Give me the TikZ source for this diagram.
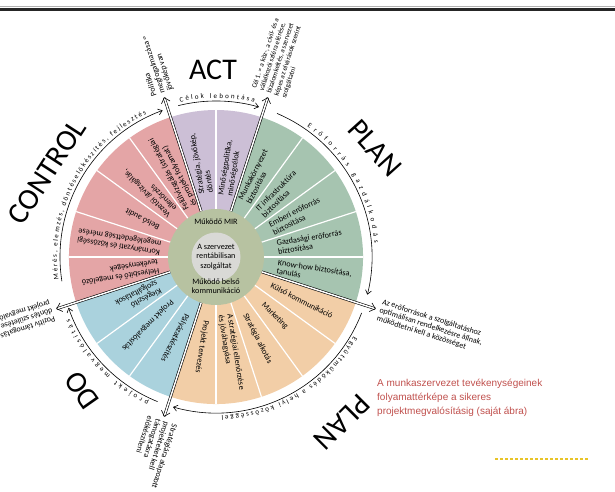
\documentclass[tikz,border=0pt]{standalone}
\usepackage{fontspec}
\setmainfont{Carlito}
\newfontfamily\capfont{Liberation Sans}
\usetikzlibrary{arrows.meta,decorations.text}

\definecolor{actcol}{RGB}{204,191,214}
\definecolor{plancol}{RGB}{166,196,176}
\definecolor{localcol}{RGB}{242,206,167}
\definecolor{docol}{RGB}{170,210,221}
\definecolor{controlcol}{RGB}{228,165,166}
\definecolor{ringcol}{RGB}{183,194,161}
\definecolor{corecol}{RGB}{217,217,214}
\definecolor{capcol}{RGB}{192,80,77}
\definecolor{dashcol}{RGB}{232,196,40}

\newcommand\arcfont{\fontsize{7}{7.5}\selectfont}

\begin{document}
\begin{tikzpicture}[x=1pt,y=1pt]
    \tikzset{sector/.style = {anchor=west,align=left,inner sep=0pt,font=\fontsize{8.2}{9}\selectfont}}
    \tikzset{note/.style = {anchor=west,align=left,inner sep=0pt,font=\fontsize{8}{8.6}\selectfont}}
    \tikzset{ringtext/.style = {align=center,inner sep=0pt,font=\fontsize{8.2}{9.2}\selectfont}}
    \tikzset{bigword/.style = {inner sep=0pt,font=\fontsize{30}{31}\selectfont}}
    \tikzset{sep/.style = {white,line width=1.2pt}}

    \tikzset{dline/.style = {double,double distance=1.5pt,line width=0.6pt,-{Straight Barb[length=5pt,width=9pt]}}}
    \tikzset{arcline/.style = {line width=0.6pt,-{Straight Barb[length=4pt,width=6pt]}}}
    \tikzset{arctext/.style = {decorate,decoration={text along path,text align={fit to path},text={|\arcfont|#1}}}}

    \useasboundingbox (0,0) rectangle (615,491);

    % top rule
    \draw[line width=1pt,gray!60] (0,484) -- (615,484);
    \draw[line width=2.2pt,black!85] (0,481.5) -- (615,481.5);

\begin{scope}[shift={(216,234)}]
    % sectors
    \fill[actcol] (0,0) -- (72:147) arc[start angle=72,end angle=108,radius=147pt] -- cycle;
    \fill[controlcol] (0,0) -- (108:147) arc[start angle=108,end angle=198,radius=147pt] -- cycle;
    \fill[docol] (0,0) -- (198:147) arc[start angle=198,end angle=252,radius=147pt] -- cycle;
    \fill[localcol] (0,0) -- (252:147) arc[start angle=252,end angle=342,radius=147pt] -- cycle;
    \fill[plancol] (0,0) -- (-18:147) arc[start angle=-18,end angle=72,radius=147pt] -- cycle;
    \foreach \a in {0,18,36,54,90,126,144,162,180,216,234,270,288,306,324}
        \draw[sep] (\a:40) -- (\a:147);

    \node[circle,fill=ringcol,minimum size=96pt,inner sep=0pt] (ring) at (0,0) {};
    \node[circle,fill=corecol,minimum size=49pt,inner sep=0pt,align=center,font=\fontsize{8.2}{9.2}\selectfont] (core) at (0,0) {A szervezet\\rentábilisan\\szolgáltat};
    \node[ringtext] (mir) at (0,35) {Működő MIR};
    \node[ringtext] (belso) at (0,-29) {Működő belső\\kommunikáció};

    \node[sector,rotate=81] (minoseg) at (81:62) {Minőségpolitika,\\minőségcélok};
    \node[sector,rotate=99] (strategia) at (99:64) {Stratégia, jövőkép,\\döntés};
    \node[sector,rotate=117] (felulvizsg) at (117:55) {Felülvizsgálás (stratégiai\\és projekt folyamat)};
    \node[sector,rotate=135] (vezetoi) at (135:62) {Vezetői átvizsgálás,\\ellenőrzés};
    \node[sector,rotate=153] (audit) at (153:64) {Belső audit};
    \node[sector,rotate=171] (kormanyzati) at (171:56) {Kormányzati és közösségi\\megelégedettség mérése};
    \node[sector,rotate=189] (helyesbito) at (189:58) {Helyesbítő és megelőző\\tevékenységek};
    \node[sector,rotate=207] (kiegeszito) at (207:64) {Kiegészítő\\szolgáltatások};
    \node[sector,rotate=225] (megvalositas) at (225:62) {Projekt megvalósítás};
    \node[sector,rotate=243] (palyazat) at (243:64) {Pályázatkészítés};
    \node[sector,rotate=261] (tervezes) at (261:64) {Projekt tervezés};
    \node[sector,rotate=279] (ellenorzes) at (279:58) {A stratégiai ellenőrzése\\és jóváhagyása};
    \node[sector,rotate=297] (alkotas) at (297:64) {Stratégia alkotás};
    \node[sector,rotate=315] (marketing) at (315:66) {Marketing};
    \node[sector,rotate=333] (kulso) at (333:62) {Külső kommunikáció};
    \node[sector,rotate=351] (knowhow) at (351:62) {Know-how biztosítása,\\tanulás};
    \node[sector,rotate=9] (gazdasagi) at (9:62) {Gazdasági erőforrás\\biztosítása};
    \node[sector,rotate=27] (emberi) at (27:62) {Emberi erőforrás\\biztosítása};
    \node[sector,rotate=45] (itinfra) at (45:62) {IT infrastruktúra\\biztosítása};
    \node[sector,rotate=63] (munkakor) at (63:62) {Munkakörnyezet\\biztosítása};

    % arrows between the phases
    \coordinate (tipact) at (108:168);
    \coordinate (tipplan) at (72:168);
    \coordinate (tiplocal) at (-18:168);
    \coordinate (tipdo) at (-108:168);
    \coordinate (tipcontrol) at (198:168);
    \draw[dline] (ring.108) -- (tipact);
    \draw[dline] (ring.72) -- (tipplan);
    \draw[dline] (ring.-18) -- (tiplocal);
    \draw[dline] (ring.-108) -- (tipdo);
    \draw[dline] (ring.198) -- (tipcontrol);

    \node[note,rotate=108] (politika) at (108:172) {Politika\\megfogalmazása =\\jövőkép van};
    \node[note,rotate=72,font=\fontsize{7}{7.8}\selectfont] (cel) at (72:172) {Cél 1. = a köz-, a civil- és a\\vállalkozói szféra elérése,\\bizalomkeltés, a szervezet\\képes az elvárások szerint\\szolgáltatni};
    \node[note,rotate=-18] (eroforras) at (-18:172) {Az erőforrások a szolgáltatáshoz\\optimálisan rendelkezésre állnak,\\működtetni kell a közösséget};
    \node[note,rotate=-108] (alapozott) at (-108:172) {Stratégiára alapozott\\projekteket kell\\támogatásra\\előkészíteni};
    \node[note,rotate=198] (pozitiv) at (198:172) {Pozitív támogatás esetén\\döntés születése a\\projekt megvalósításáról};

    % arcs round the wheel
    \draw[arcline] (104:156) arc[start angle=104,end angle=74,radius=156pt];
    \draw[arcline] (67:156) arc[start angle=67,end angle=-14,radius=156pt];
    \draw[arcline] (-21:156) arc[start angle=-21,end angle=-106,radius=156pt];
    \draw[arcline] (-112:156) arc[start angle=-112,end angle=-161,radius=156pt];
    \draw[arcline] (189:156) arc[start angle=189,end angle=110,radius=156pt];

    \path[arctext={Célok lebontása}] (103:159) arc[start angle=103,end angle=76,radius=159pt];
    \path[arctext={Erőforrás gazdálkodás}] (55:159) arc[start angle=55,end angle=5,radius=159pt];
    \path[arctext={Együttműködés a helyi közösséggel}] (-30:159) arc[start angle=-30,end angle=-88,radius=159pt];
    \path[arctext={projekt megvalósítás}] (-115:159) arc[start angle=-115,end angle=-157,radius=159pt];
    \path[arctext={Mérés, elemzés, döntéselőkészítés, fejlesztés}] (188:159) arc[start angle=188,end angle=116,radius=159pt];

    \node[bigword] (act) at (-3,187) {ACT};
    \node[bigword,rotate=-48] (plan) at (159,109) {PLAN};
    \node[bigword,rotate=-135] (planlocal) at (126,-165) {PLAN};
    \node[bigword,rotate=125] (do) at (-134,-133) {DO};
    \node[bigword,rotate=57] (control) at (-169,85) {CONTROL};
\end{scope}

    \node[anchor=north west,align=left,inner sep=0pt,text=capcol,font=\capfont\fontsize{10}{14}\selectfont] (caption) at (377,112) {A munkaszervezet tevékenységeinek\\folyamattérképe a sikeres\\projektmegvalósításig (saját ábra)};
    \draw[dashcol,line width=1.2pt,dash pattern=on 3pt off 2pt] (495,32) -- (588,32);
\end{tikzpicture}
\end{document}
